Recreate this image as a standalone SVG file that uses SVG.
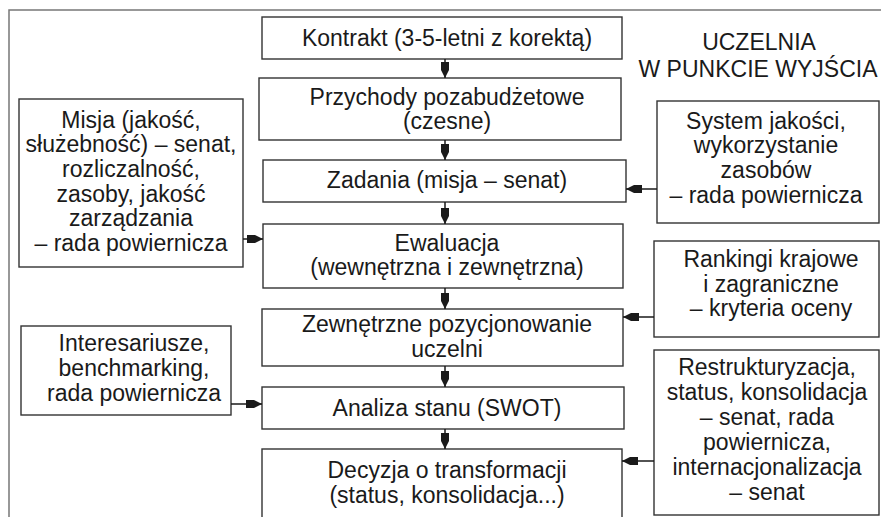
<svg xmlns="http://www.w3.org/2000/svg" width="881" height="517" viewBox="0 0 881 517">
<style>
.box{fill:#fff;stroke:#333;stroke-width:1.4}
.frame{fill:none;stroke:#777;stroke-width:1.5}
.t{font-family:"Liberation Sans",Arial,sans-serif;font-size:23px;fill:#1a1a1a;text-anchor:middle}
.c{stroke:#1a1a1a;stroke-width:1.5;fill:none;marker-end:url(#ah)}
</style>
<defs>
<marker id="ah" markerUnits="userSpaceOnUse" viewBox="0 0 16 9" refX="16" refY="4.5" markerWidth="16" markerHeight="9" orient="auto">
<path d="M0,0.5 H8 L16,4.5 L8,8.5 H0 Z" fill="#1a1a1a"/>
</marker>
</defs>
<rect fill="#fff" width="881" height="517"/>
<path class="frame" d="M9,530 V10 H890"/>
<g id="title"><text class="t" x="759" y="50">UCZELNIA</text><text class="t" x="758" y="77">W PUNKCIE WYJŚCIA</text></g>
<g id="kontrakt"><rect class="box" x="262" y="17" width="360" height="42"/><text class="t" x="447" y="46">Kontrakt (3-5-letni z korektą)</text></g>
<g id="przychody"><rect class="box" x="259" y="78" width="362" height="62"/><text class="t" x="447" y="105">Przychody pozabudżetowe</text><text class="t" x="447" y="129">(czesne)</text></g>
<g id="zadania"><rect class="box" x="263" y="160" width="363" height="42"/><text class="t" x="447" y="188">Zadania (misja – senat)</text></g>
<g id="ewaluacja"><rect class="box" x="263" y="224" width="360" height="64"/><text class="t" x="447" y="251">Ewaluacja</text><text class="t" x="447" y="275">(wewnętrzna i zewnętrzna)</text></g>
<g id="pozycjonowanie"><rect class="box" x="262" y="309" width="361" height="57"/><text class="t" x="447" y="332">Zewnętrzne pozycjonowanie</text><text class="t" x="447" y="357">uczelni</text></g>
<g id="analiza"><rect class="box" x="262" y="387" width="362" height="42"/><text class="t" x="447" y="416">Analiza stanu (SWOT)</text></g>
<g id="decyzja"><rect class="box" x="262" y="449" width="360" height="90"/><text class="t" x="447" y="478">Decyzja o transformacji</text><text class="t" x="447" y="503">(status, konsolidacja...)</text></g>
<g id="misja"><rect class="box" x="19" y="99" width="224" height="168"/><text class="t" x="131" y="128">Misja (jakość,</text><text class="t" x="131" y="152">służebność) – senat,</text><text class="t" x="131" y="177">rozliczalność,</text><text class="t" x="131" y="202">zasoby, jakość</text><text class="t" x="131" y="226">zarządzania</text><text class="t" x="131" y="251">– rada powiernicza</text></g>
<g id="interesariusze"><rect class="box" x="21" y="326" width="210" height="89"/><text class="t" x="134" y="351">Interesariusze,</text><text class="t" x="134" y="376">benchmarking,</text><text class="t" x="134" y="401">rada powiernicza</text></g>
<g id="system"><rect class="box" x="657" y="101" width="222" height="122"/><text class="t" x="766" y="129">System jakości,</text><text class="t" x="766" y="153">wykorzystanie</text><text class="t" x="766" y="178">zasobów</text><text class="t" x="766" y="203">– rada powiernicza</text></g>
<g id="rankingi"><rect class="box" x="654" y="241" width="225" height="96"/><text class="t" x="771" y="267">Rankingi krajowe</text><text class="t" x="771" y="292">i zagraniczne</text><text class="t" x="771" y="316">– kryteria oceny</text></g>
<g id="restrukturyzacja"><rect class="box" x="654" y="350" width="225" height="165"/><text class="t" x="767" y="375">Restrukturyzacja,</text><text class="t" x="767" y="400">status, konsolidacja</text><text class="t" x="767" y="425">– senat, rada</text><text class="t" x="767" y="450">powiernicza,</text><text class="t" x="767" y="475">internacjonalizacja</text><text class="t" x="767" y="500">– senat</text></g>
<g id="connectors">
<path class="c" d="M445,59 V78"/>
<path class="c" d="M445,140 V160"/>
<path class="c" d="M445,202 V224"/>
<path class="c" d="M445,288 V309"/>
<path class="c" d="M445,366 V387"/>
<path class="c" d="M445,429 V449"/>
<path class="c" d="M243,239 H263"/>
<path class="c" d="M231,404 H262"/>
<path class="c" d="M657,189 H626"/>
<path class="c" d="M654,317 H623"/>
<path class="c" d="M654,461 H622"/>
</g>
</svg>
